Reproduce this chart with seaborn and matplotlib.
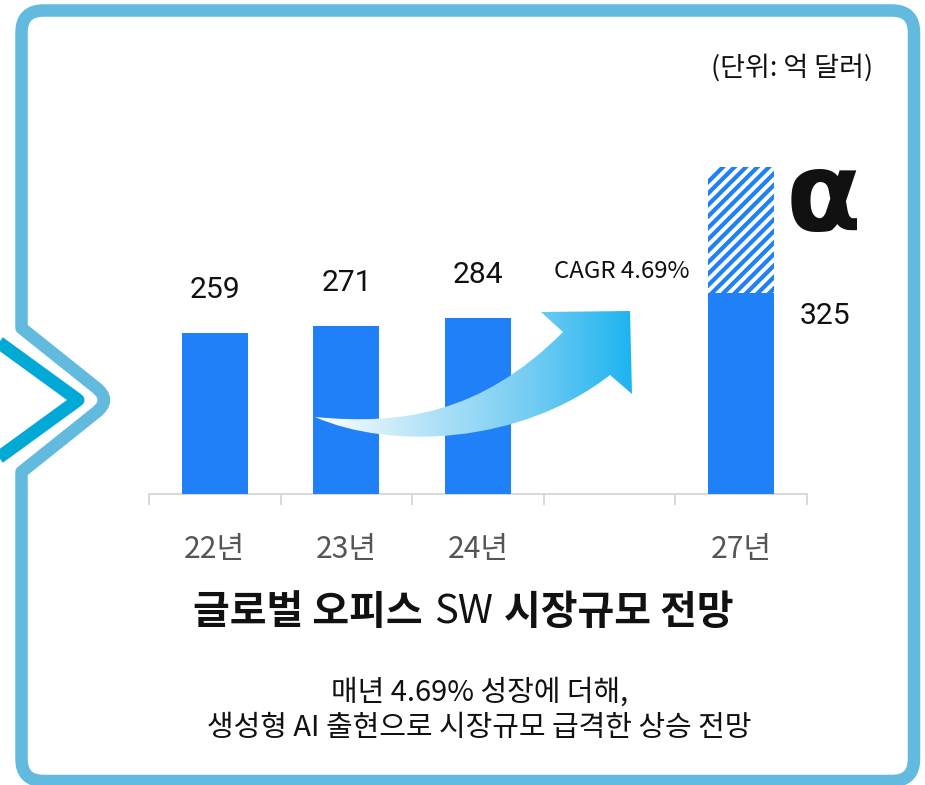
import numpy as np
import matplotlib
matplotlib.use('Agg')
import matplotlib.pyplot as plt
from matplotlib.path import Path
from matplotlib.patches import PathPatch
from matplotlib.colors import LinearSegmentedColormap
import seaborn as sns

# 글로벌 오피스 SW 시장규모 (단위: 억 달러)
years = ['22년', '23년', '24년', '27년']
market_size = [259, 271, 284, 325]
slots = ['22년', '23년', '24년', ' ', '27년']   # 25~26년 자리는 비워둠
alpha_year = '27년'
alpha_extra = 202   # 생성형 AI 효과 (빗금 부분)
cagr_text = 'CAGR 4.69%'

W, H, DPI = 926, 785, 75
PT = 72 / DPI   # px -> pt

BAR = '#2080F8'
FRAME = '#62BADF'
CHEV = '#00A9D6'
AXIS = '#D9D9D9'
NUM_FONT = ['Roboto', 'DejaVu Sans']

sns.set_theme(style='white')
plt.rcParams['font.family'] = ['Noto Sans CJK KR', 'DejaVu Sans']

fig = plt.figure(figsize=(W / DPI, H / DPI), dpi=DPI)
fig.patch.set_facecolor('white')

# bar area: baseline at y=494px
base, top = 494, 100
ax = fig.add_axes([149 / W, 1 - base / H, (807 - 149) / W, (base - top) / H])
ax.set_facecolor('none')

# overlay in pixel coordinates (frame, chevrons, arrow, text)
ov = fig.add_axes([0, 0, 1, 1])
ov.set_facecolor('none')
ov.set_xlim(0, W)
ov.set_ylim(H, 0)

alpha_idx = slots.index(alpha_year)
alpha_total = market_size[years.index(alpha_year)] + alpha_extra

sns.barplot(x=[alpha_year], y=[alpha_total], order=slots, color='white',
            linewidth=0, width=0.5, saturation=1, ax=ax)
hatch_bar = ax.patches[0]
n0 = len(ax.patches)
sns.barplot(x=years, y=market_size, order=slots, color=BAR,
            linewidth=0, width=0.5, saturation=1, ax=ax)
for p in ax.patches[n0:]:
    p.set_zorder(3)

# diagonal stripes for the α part (drawn between the two bar layers)
for x in np.arange(560, 800, 11.5):
    ln, = ax.plot([x, x + 220], [330, 110], color=BAR, linewidth=4.2 * PT,
                  transform=ov.transData, zorder=2, solid_capstyle='butt')
    ln.set_clip_path(hatch_bar)

ax.set_xlim(-0.5, len(slots) - 0.5)
ax.set_ylim(0, (base - top) / 0.62)
ax.set_xlabel('')
ax.set_ylabel('')
ax.set_yticks([])
sns.despine(ax=ax, left=True)
ax.spines['bottom'].set_color(AXIS)
ax.spines['bottom'].set_linewidth(2 * PT)

ax.set_xticks(np.arange(-0.5, len(slots)), minor=True)
ax.tick_params(axis='x', which='minor', bottom=True, length=11 * PT, width=2 * PT,
               color=AXIS, direction='out')
ax.tick_params(axis='x', which='major', length=0, pad=55 * PT,
               labelsize=30 * PT, labelcolor='#555555')
for t in ax.get_xticklabels():
    t.set_va('center')

# value labels
for yr, v in zip(years, market_size):
    i = slots.index(yr)
    if yr == alpha_year:
        ax.annotate(str(v), xy=(i + 0.25, v), xytext=(26 * PT, -31 * PT),
                    textcoords='offset points', ha='left', va='baseline',
                    fontsize=30 * PT, family=NUM_FONT, color='#111111')
    else:
        ax.annotate(str(v), xy=(i, v), xytext=(0, 35 * PT),
                    textcoords='offset points', ha='center', va='baseline',
                    fontsize=30 * PT, family=NUM_FONT, color='#111111')

ax.annotate('α', xy=(alpha_idx + 0.25, alpha_total), xytext=(12 * PT, -63 * PT),
            textcoords='offset points', ha='left', va='baseline',
            fontsize=110 * PT, fontweight='bold', family=['DejaVu Sans'],
            color='#111111')

# frame with chevron bump
L, T, R, B, r = 21.5, 10.5, 914, 781, 22
M, C3, LN, CL = Path.MOVETO, Path.CURVE3, Path.LINETO, Path.CLOSEPOLY
frame_v = [(L + r, T), (R - r, T), (R, T), (R, T + r), (R, B - r), (R, B), (R - r, B),
           (L + r, B), (L, B), (L, B - r), (L, 472), (96, 412.5), (112, 400), (96, 387.5),
           (L, 328), (L, T + r), (L, T), (L + r, T), (L + r, T)]
frame_c = [M, LN, C3, C3, LN, C3, C3, LN, C3, C3, LN, LN, C3, C3, LN, LN, C3, C3, CL]
ov.add_patch(PathPatch(Path(frame_v, frame_c), fill=False, edgecolor=FRAME,
                       linewidth=12.5 * PT, joinstyle='round'))
ov.plot([-10, 78, -10], [336, 400, 464], color=CHEV, linewidth=13 * PT,
        solid_joinstyle='round', solid_capstyle='butt')

# growth arrow
C4 = Path.CURVE4
arrow_v = [(315, 417), (400, 425), (480, 415), (563, 332), (541, 312), (630, 311),
           (632, 394), (610, 375), (520, 445), (390, 450), (315, 417), (315, 417)]
arrow_c = [M, C4, C4, C4, LN, LN, LN, LN, C4, C4, C4, CL]
arrow = PathPatch(Path(arrow_v, arrow_c), facecolor='none', edgecolor='none')
ov.add_patch(arrow)
cmap = LinearSegmentedColormap.from_list(
    'arr', [(0, '#FFFFFF'), (0.35, '#B5E3F7'), (0.7, '#6FCBF3'), (1, '#1DB4F0')])
im = ov.imshow(np.linspace(0, 1, 256).reshape(1, -1), cmap=cmap, aspect='auto',
               extent=(315, 632, 450, 311), interpolation='bilinear')
im.set_clip_path(arrow)

ov.text(622, 272, cagr_text, ha='center', va='center', fontsize=24 * PT, color='#111111')
ov.text(873, 68, '(단위: 억 달러)', ha='right', va='center', fontsize=27 * PT, color='#111111')

# title: "SW" in regular weight
parts = [('글로벌 오피스', 'bold'), ('SW', 'normal'), ('시장규모 전망', 'bold')]
title_texts = [ov.text(0, 612, s, ha='left', va='center', fontsize=40 * PT,
                       fontweight=w, color='#111111') for s, w in parts]
ov.text(480, 693, '매년 4.69% 성장에 더해,', ha='center', va='center',
        fontsize=29 * PT, color='#111111')
ov.text(479, 728, '생성형 AI 출현으로 시장규모 급격한 상승 전망', ha='center', va='center',
        fontsize=29 * PT, color='#111111')

ov.set_xlim(0, W)
ov.set_ylim(H, 0)
ov.axis('off')

fig.canvas.draw()
rend = fig.canvas.get_renderer()
gap = 11
widths = [t.get_window_extent(rend).width for t in title_texts]
x0 = 463.5 - (sum(widths) + gap * (len(widths) - 1)) / 2
for t, w in zip(title_texts, widths):
    t.set_x(x0)
    x0 += w + gap

fig.savefig('out.png', dpi=DPI, facecolor='white')
